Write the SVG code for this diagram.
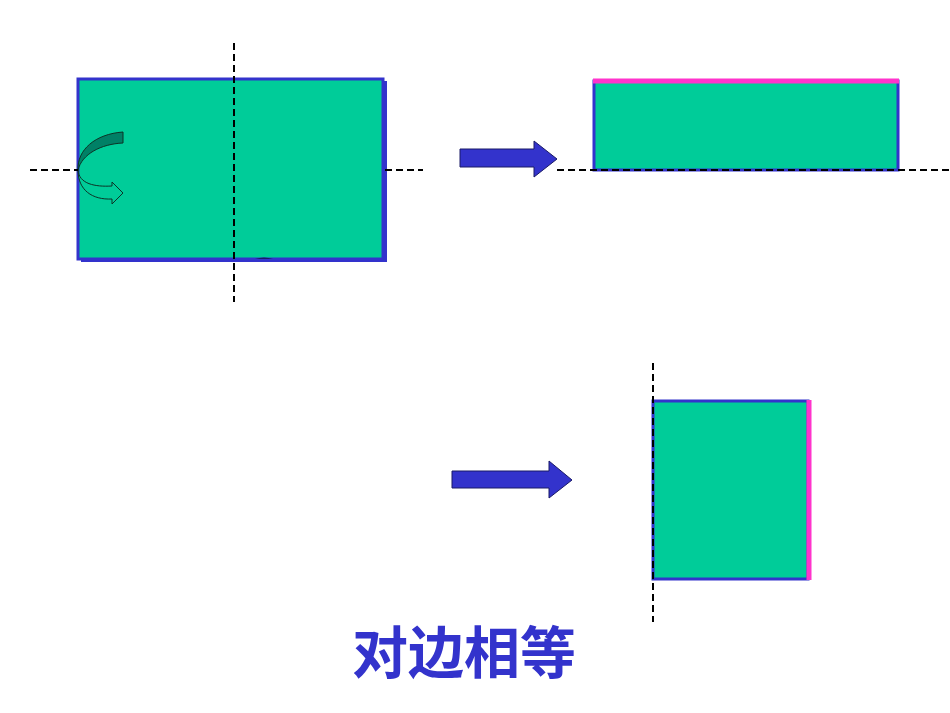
<svg xmlns="http://www.w3.org/2000/svg" width="950" height="713" viewBox="0 0 950 713">
<style>
.sheet{fill:#00cc99;stroke:#3333cc;stroke-width:3}
.shadow{fill:#3333cc}
.dash{stroke:#000;stroke-width:2;stroke-dasharray:7,4;fill:none}
.pink{stroke:#ff33cc;stroke-width:5;fill:none}
.barrow{fill:#3333cc;stroke:#1a1a66;stroke-width:1}
.title{font-family:"Noto Sans CJK SC","Noto Sans CJK JP",sans-serif;font-size:56px;font-weight:bold;fill:#3333cc}
</style>
<rect width="950" height="713" fill="#fff"/>
<g id="sheet1">
<rect class="shadow" x="81" y="81" width="306" height="181"/>
<rect class="sheet" x="78" y="79" width="305" height="180"/>
<path d="M255,259 Q264,256 273,259 Z" fill="#1a1a66"/>
</g>
<g id="fold-arrow">
<path d="M123,132 L123,143 C101,144 82,154 78,170 C77,150 95,134 123,132 Z" fill="#008066" stroke="#0d3326" stroke-width="1"/>
<path d="M78,170 C79,184 95,187 112,186 L112,182 L123,193 L112,204 L112,199 C92,200 78,190 78,170 Z" fill="#00cc99" stroke="#0d3326" stroke-width="1"/>
</g>
<g id="sheet2">
<rect class="sheet" x="594" y="81" width="304" height="89"/>
<line class="pink" x1="593" y1="81" x2="899" y2="81"/>
</g>
<g id="sheet3">
<rect class="sheet" x="653" y="401" width="155" height="178"/>
<line class="pink" x1="809" y1="400" x2="809" y2="580"/>
</g>
<g id="connectors">
<line class="dash" x1="234" y1="43" x2="234" y2="302"/>
<line class="dash" x1="30" y1="170" x2="78" y2="170"/>
<line class="dash" x1="385" y1="170" x2="423" y2="170"/>
<line class="dash" x1="557" y1="170" x2="950" y2="170"/>
<line class="dash" x1="653" y1="363" x2="653" y2="622"/>
<path class="barrow" d="M460,149 L534,149 L534,141 L557,159 L534,177 L534,167 L460,167 Z"/>
<path class="barrow" d="M452,471 L549,471 L549,461 L572,480 L549,498 L549,488 L452,488 Z"/>
</g>
<g id="caption">
<text class="title" x="464" y="673" text-anchor="middle">对边相等</text>
</g>
</svg>
